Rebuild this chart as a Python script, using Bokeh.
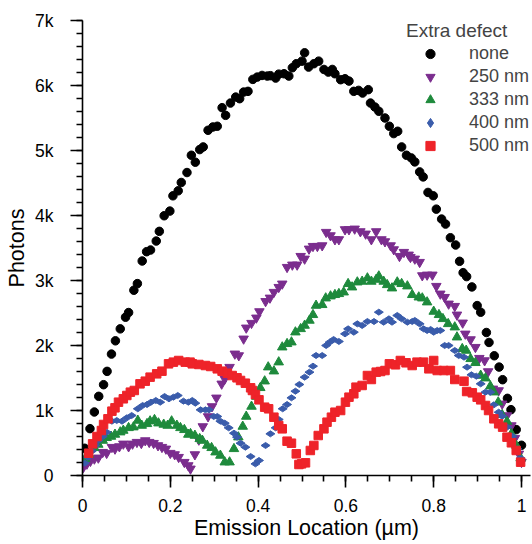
from bokeh.plotting import figure
from bokeh.models import Range1d, FixedTicker, Legend, LegendItem
from bokeh.embed import file_html
from bokeh.resources import INLINE
import math

# ---------------- data ----------------
none_x = [0.005, 0.017, 0.027, 0.037, 0.048, 0.056, 0.066, 0.075, 0.086, 0.098, 0.105, 0.117, 0.125,
          0.136, 0.146, 0.155, 0.168, 0.175, 0.186, 0.199, 0.206, 0.218, 0.225, 0.238, 0.248, 0.257,
          0.267, 0.275, 0.286, 0.297, 0.307, 0.318, 0.326, 0.337, 0.349, 0.358, 0.367, 0.377, 0.388,
          0.398, 0.409, 0.421, 0.428, 0.440, 0.447, 0.459, 0.470, 0.478, 0.487, 0.500, 0.506, 0.515,
          0.527, 0.538, 0.550, 0.560, 0.569, 0.575, 0.588, 0.598, 0.607, 0.618, 0.629, 0.638, 0.651,
          0.656, 0.666, 0.675, 0.689, 0.699, 0.709, 0.718, 0.727, 0.738, 0.749, 0.757, 0.768, 0.776,
          0.787, 0.799, 0.806, 0.818, 0.827, 0.838, 0.850, 0.859, 0.867, 0.875, 0.887, 0.899, 0.907,
          0.920, 0.926, 0.938, 0.949, 0.957, 0.968, 0.976, 0.988, 1.000]
none_y = [419, 721, 977, 1218, 1397, 1602, 1868, 2072, 2256, 2435, 2507, 2850, 2952,
          3300, 3443, 3469, 3607, 3756, 3996, 4068, 4303, 4380, 4508, 4661, 4927, 4820,
          5014, 5055, 5311, 5362, 5373, 5659, 5541, 5730, 5822, 5797, 5899, 5910, 6094,
          6129, 6155, 6145, 6151, 6114, 6175, 6181, 6145, 6273, 6335, 6375, 6503, 6283,
          6335, 6375, 6247, 6206, 6247, 6181, 6089, 6104, 6068, 5910, 5925, 5884, 5936,
          5730, 5669, 5603, 5500, 5373, 5260, 5296, 5055, 4927, 4886, 4825, 4671, 4594,
          4355, 4303, 4098, 3945, 3868, 3658, 3546, 3295, 3121, 3060, 2901, 2614, 2512,
          2200, 2047, 1842, 1668, 1474, 1187, 1013, 706, 465]

d250_x = [0.002, 0.010, 0.018, 0.027, 0.036, 0.046, 0.055, 0.067, 0.074, 0.084, 0.093, 0.105, 0.114,
          0.124, 0.134, 0.143, 0.152, 0.162, 0.172, 0.181, 0.190, 0.200, 0.210, 0.219, 0.232, 0.241,
          0.246, 0.256, 0.265, 0.274, 0.286, 0.295, 0.305, 0.317, 0.324, 0.335, 0.347, 0.356, 0.367,
          0.373, 0.385, 0.396, 0.403, 0.417, 0.427, 0.436, 0.447, 0.455, 0.466, 0.478, 0.489, 0.497,
          0.506, 0.516, 0.525, 0.535, 0.546, 0.555, 0.565, 0.575, 0.584, 0.598, 0.607, 0.620, 0.633,
          0.645, 0.658, 0.669, 0.681, 0.689, 0.702, 0.709, 0.722, 0.732, 0.743, 0.747, 0.757, 0.768,
          0.774, 0.785, 0.797, 0.806, 0.815, 0.825, 0.834, 0.848, 0.853, 0.866, 0.872, 0.884, 0.895,
          0.904, 0.916, 0.924, 0.935, 0.948, 0.956, 0.967, 0.977, 0.985, 0.994, 1.000]
d250_y = [128, 179, 221, 257, 272, 359, 344, 436, 410, 446, 487, 446, 487,
          513, 497, 538, 513, 497, 462, 436, 410, 344, 323, 282, 205, 154,
          103, 323, 549, 754, 908, 1062, 1195, 1410, 1487, 1667, 1872, 1846, 2103,
          2272, 2344, 2426, 2523, 2680, 2733, 2821, 2897, 2949, 3205, 3241, 3241, 3374,
          3333, 3487, 3528, 3528, 3538, 3744, 3692, 3631, 3631, 3785, 3785, 3795, 3754,
          3718, 3631, 3754, 3631, 3600, 3538, 3477, 3374, 3436, 3395, 3359, 3333, 3282,
          3077, 3087, 3087, 2913, 2795, 2743, 2641, 2605, 2472, 2349, 2179, 2092, 1974,
          1805, 1769, 1600, 1333, 1308, 1103, 923, 769, 574, 333, 205]

d333_x = [0.006, 0.015, 0.027, 0.036, 0.046, 0.055, 0.065, 0.074, 0.086, 0.093, 0.105, 0.116, 0.126,
          0.135, 0.147, 0.154, 0.164, 0.173, 0.185, 0.194, 0.203, 0.215, 0.223, 0.232, 0.241, 0.246,
          0.256, 0.267, 0.273, 0.284, 0.294, 0.303, 0.314, 0.324, 0.335, 0.345, 0.355, 0.365, 0.373,
          0.385, 0.396, 0.405, 0.415, 0.423, 0.436, 0.447, 0.455, 0.466, 0.476, 0.485, 0.497, 0.506,
          0.517, 0.525, 0.532, 0.546, 0.554, 0.565, 0.575, 0.584, 0.595, 0.605, 0.614, 0.626, 0.637,
          0.649, 0.658, 0.669, 0.675, 0.686, 0.694, 0.705, 0.717, 0.727, 0.740, 0.751, 0.766, 0.774,
          0.785, 0.800, 0.812, 0.821, 0.833, 0.848, 0.853, 0.865, 0.874, 0.884, 0.895, 0.907, 0.918,
          0.929, 0.937, 0.947, 0.956, 0.967, 0.977, 0.988, 0.998]
d333_y = [257, 323, 426, 477, 538, 580, 600, 631, 667, 692, 733, 744, 846,
          769, 795, 836, 857, 805, 785, 769, 836, 769, 733, 703, 631, 641,
          615, 564, 538, 462, 426, 359, 308, 205, 205, 410, 590, 754, 908,
          1062, 1215, 1349, 1451, 1667, 1605, 1744, 1974, 2026, 2051, 2205, 2256, 2308,
          2385, 2472, 2615, 2626, 2728, 2759, 2780, 2795, 2820, 2949, 2897, 2974, 2985,
          3036, 2985, 3015, 3066, 2985, 2933, 2882, 2974, 2949, 2913, 2780, 2743, 2728,
          2667, 2523, 2472, 2410, 2333, 2282, 2128, 1949, 1923, 1795, 1734, 1538, 1497,
          1374, 1282, 1128, 933, 831, 641, 462, 267]

d400_x = [0.005, 0.012, 0.021, 0.029, 0.036, 0.046, 0.055, 0.067, 0.078, 0.090, 0.101, 0.112, 0.126,
          0.137, 0.147, 0.156, 0.167, 0.177, 0.187, 0.197, 0.207, 0.217, 0.230, 0.241, 0.250, 0.257,
          0.269, 0.280, 0.288, 0.299, 0.307, 0.314, 0.324, 0.333, 0.345, 0.352, 0.360, 0.371, 0.383,
          0.394, 0.402, 0.417, 0.428, 0.440, 0.447, 0.456, 0.466, 0.476, 0.485, 0.494, 0.506, 0.517,
          0.525, 0.532, 0.546, 0.555, 0.563, 0.572, 0.584, 0.598, 0.605, 0.618, 0.626, 0.637, 0.649,
          0.664, 0.675, 0.686, 0.698, 0.705, 0.717, 0.727, 0.740, 0.751, 0.757, 0.768, 0.777, 0.785,
          0.793, 0.800, 0.808, 0.815, 0.825, 0.834, 0.848, 0.857, 0.869, 0.876, 0.886, 0.897, 0.907,
          0.918, 0.929, 0.937, 0.948, 0.956, 0.967, 0.979, 0.990, 0.998]
d400_y = [190, 282, 374, 462, 538, 600, 667, 836, 846, 836, 887, 923, 1026,
          1077, 1092, 1128, 1154, 1128, 1215, 1180, 1205, 1231, 1144, 1128, 1154, 1113,
          1010, 1010, 1010, 908, 908, 836, 805, 733, 651, 590, 497, 436, 292,
          179, 231, 462, 641, 733, 862, 1026, 1092, 1195, 1297, 1400, 1513, 1590,
          1682, 1846, 1846, 2000, 2051, 2092, 2062, 2179, 2256, 2205, 2333, 2308, 2369,
          2369, 2513, 2359, 2410, 2359, 2462, 2410, 2359, 2369, 2385, 2333, 2256, 2231,
          2246, 2205, 2231, 2231, 2000, 2000, 1923, 1846, 1821, 1667, 1549, 1528, 1410,
          1282, 1282, 1087, 974, 913, 744, 605, 410, 267]

d500_x = [0.014, 0.023, 0.033, 0.043, 0.048, 0.058, 0.067, 0.074, 0.082, 0.093, 0.101, 0.109, 0.118,
          0.131, 0.143, 0.154, 0.169, 0.181, 0.196, 0.207, 0.219, 0.234, 0.245, 0.250, 0.265, 0.280,
          0.292, 0.307, 0.318, 0.330, 0.341, 0.352, 0.360, 0.371, 0.383, 0.387, 0.394, 0.402, 0.415,
          0.424, 0.436, 0.447, 0.455, 0.466, 0.476, 0.487, 0.493, 0.499, 0.508, 0.519, 0.527, 0.537,
          0.550, 0.557, 0.567, 0.575, 0.588, 0.599, 0.607, 0.618, 0.623, 0.637, 0.649, 0.658, 0.669,
          0.679, 0.689, 0.699, 0.713, 0.724, 0.737, 0.751, 0.762, 0.777, 0.789, 0.800, 0.808, 0.823,
          0.838, 0.848, 0.869, 0.875, 0.888, 0.899, 0.907, 0.918, 0.925, 0.937, 0.948, 0.957, 0.967,
          0.977, 0.988, 0.998]
d500_y = [343, 487, 600, 692, 785, 872, 990, 1041, 1128, 1180, 1231, 1282, 1308,
          1410, 1451, 1513, 1564, 1605, 1718, 1744, 1769, 1744, 1744, 1718, 1708, 1692,
          1677, 1641, 1605, 1574, 1538, 1503, 1462, 1420, 1349, 1308, 1246, 1164, 1051,
          1026, 897, 769, 718, 528, 497, 333, 169, 179, 195, 385, 462, 615,
          718, 820, 897, 974, 1000, 1128, 1205, 1257, 1359, 1385, 1538, 1477, 1590,
          1600, 1615, 1718, 1703, 1769, 1734, 1692, 1744, 1744, 1641, 1769, 1615, 1615,
          1615, 1477, 1451, 1292, 1272, 1205, 1164, 1077, 1000, 872, 795, 744, 590,
          503, 385, 205]

series_labels = ["none", "250 nm", "333 nm", "400 nm", "500 nm"]
legend_title = "Extra defect"

x_tick_values = [0, 0.2, 0.4, 0.6, 0.8, 1]
x_tick_labels = ["0", "0.2", "0.4", "0.6", "0.8", "1"]
y_tick_values = [0, 1000, 2000, 3000, 4000, 5000, 6000, 7000]
y_tick_labels = ["0", "1k", "2k", "3k", "4k", "5k", "6k", "7k"]
x_label = "Emission Location (\u00b5m)"
y_label = "Photons"

# ---------------- figure ----------------
FONT = "Liberation Sans"
p = figure(width=532, height=544, output_backend="svg", toolbar_location=None,
           x_range=Range1d(0, 1.0205), y_range=Range1d(0, 7000),
           min_border_left=82, min_border_right=2, min_border_top=20, min_border_bottom=69)
p.outline_line_color = None
p.xgrid.visible = False
p.ygrid.visible = False
p.background_fill_color = "white"
p.border_fill_color = "white"

p.xaxis.ticker = FixedTicker(ticks=x_tick_values, minor_ticks=[i * 0.05 for i in range(21)])
p.xaxis.major_label_overrides = dict(zip(x_tick_values, x_tick_labels))
p.yaxis.ticker = FixedTicker(ticks=y_tick_values, minor_ticks=[i * 200 for i in range(36)])
p.yaxis.major_label_overrides = dict(zip(y_tick_values, y_tick_labels))
p.xaxis.axis_label = x_label
p.yaxis.axis_label = y_label

for ax in (p.xaxis[0], p.yaxis[0]):
    ax.axis_line_color = "black"
    ax.axis_line_width = 1.6
    ax.major_tick_line_color = "black"
    ax.minor_tick_line_color = "black"
    ax.major_tick_line_width = 1.6
    ax.minor_tick_line_width = 1.6
    ax.major_tick_in = 0
    ax.major_tick_out = 12
    ax.minor_tick_in = 0
    ax.minor_tick_out = 6
    ax.major_label_text_font = FONT
    ax.major_label_text_font_size = "17.5px"
    ax.major_label_text_color = "black"
    ax.axis_label_text_font = FONT
    ax.axis_label_text_font_size = "21.5px"
    ax.axis_label_text_font_style = "normal"
    ax.axis_label_text_color = "black"

p.xaxis.major_label_standoff = 11
p.xaxis.axis_label_standoff = 1
p.yaxis.major_label_standoff = 17
p.yaxis.axis_label_standoff = 3

r0 = p.scatter(none_x, none_y, marker="circle", size=8.5, color="black")
r1 = p.scatter(d250_x, d250_y, marker="inverted_triangle", size=9.5, color="#7b2d8e")
r2 = p.scatter(d333_x, d333_y, marker="triangle", size=9.5, color="#1e8a3c")
r3 = p.scatter(d400_x, d400_y, marker="diamond", size=9, angle=math.pi / 2, color="#3a5cab")
r4 = p.scatter(d500_x, d500_y, marker="square", size=8.5, color="#ee2329")

legend = Legend(
    items=[LegendItem(label=l, renderers=[r]) for l, r in zip(series_labels, [r0, r1, r2, r3, r4])],
    title=legend_title,
    location=(324, 318),
    title_text_font=FONT, title_text_font_size="19px", title_text_font_style="normal",
    title_standoff=0,
    label_text_font=FONT, label_text_font_size="18px",
    glyph_width=48, glyph_height=23, label_height=23, label_standoff=15,
    spacing=0, padding=0, margin=0,
    border_line_color=None, background_fill_alpha=0,
)
p.add_layout(legend)

open("out.html", "w").write(file_html(p, INLINE))
